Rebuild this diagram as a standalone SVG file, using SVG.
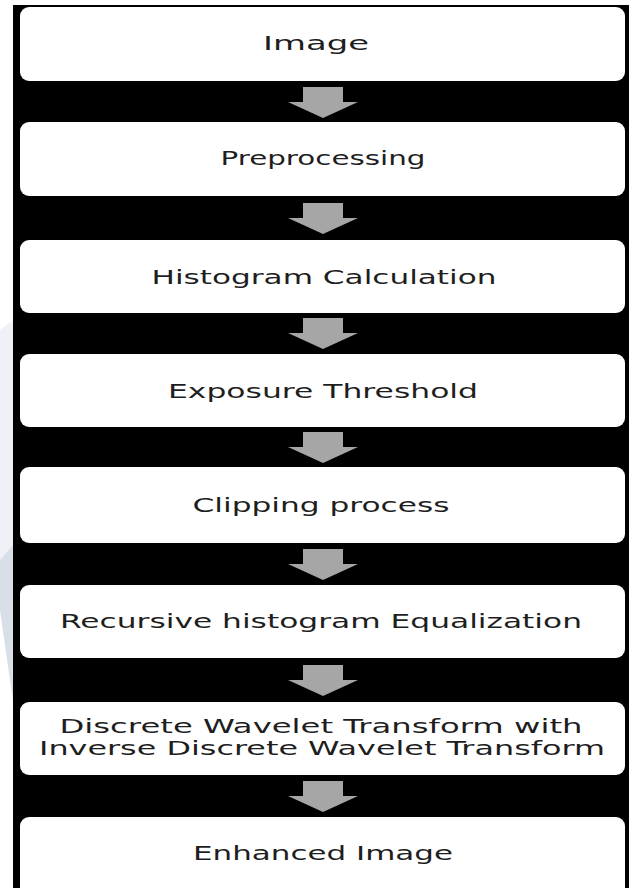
<svg xmlns="http://www.w3.org/2000/svg" width="636" height="888" viewBox="0 0 636 888">
<style>
.box{fill:#ffffff;}
.lbl{font-family:"DejaVu Sans","Liberation Sans",sans-serif;font-size:19px;fill:#1e1e1e;text-anchor:middle;}
.arr{fill:#a6a6a6;}
</style>
<defs>
<path id="arrow" d="M-20,0 H20 V15 H35 L0,31 L-35,15 H-20 Z"/>
</defs>
<rect x="0" y="0" width="636" height="888" fill="#ffffff"/>
<polygon points="0,330 13,320 13,700 0,610" fill="#eef1f5"/>
<polygon points="0,560 13,545 13,700 0,610" fill="#d9dfe7"/>
<rect x="13" y="5" width="616" height="883" fill="#000000"/>
<g id="connectors">
<use href="#arrow" class="arr" x="323" y="87"/>
<use href="#arrow" class="arr" x="323" y="203"/>
<use href="#arrow" class="arr" x="323" y="318"/>
<use href="#arrow" class="arr" x="323" y="432"/>
<use href="#arrow" class="arr" x="323" y="549"/>
<use href="#arrow" class="arr" x="323" y="665"/>
<use href="#arrow" class="arr" x="323" y="781"/>
</g>
<g id="n1"><rect class="box" x="20" y="7" width="605" height="74" rx="9"/><text class="lbl" x="316" y="50" textLength="106" lengthAdjust="spacingAndGlyphs">Image</text></g>
<g id="n2"><rect class="box" x="20" y="122" width="605" height="74" rx="9"/><text class="lbl" x="323" y="165" textLength="205" lengthAdjust="spacingAndGlyphs">Preprocessing</text></g>
<g id="n3"><rect class="box" x="20" y="240" width="605" height="73" rx="9"/><text class="lbl" x="324" y="284" textLength="345" lengthAdjust="spacingAndGlyphs">Histogram Calculation</text></g>
<g id="n4"><rect class="box" x="20" y="354" width="605" height="73" rx="9"/><text class="lbl" x="323" y="398" textLength="310" lengthAdjust="spacingAndGlyphs">Exposure Threshold</text></g>
<g id="n5"><rect class="box" x="20" y="467" width="605" height="76" rx="9"/><text class="lbl" x="321" y="512" textLength="257" lengthAdjust="spacingAndGlyphs">Clipping process</text></g>
<g id="n6"><rect class="box" x="20" y="585" width="605" height="73" rx="9"/><text class="lbl" x="321" y="628" textLength="522" lengthAdjust="spacingAndGlyphs">Recursive histogram Equalization</text></g>
<g id="n7"><rect class="box" x="20" y="702" width="605" height="73" rx="9"/><text class="lbl" x="321" y="733" textLength="523" lengthAdjust="spacingAndGlyphs">Discrete Wavelet Transform with</text><text class="lbl" x="322" y="755" textLength="566" lengthAdjust="spacingAndGlyphs">Inverse Discrete Wavelet Transform</text></g>
<g id="n8"><rect class="box" x="20" y="817" width="605" height="80" rx="9"/><text class="lbl" x="323" y="860" textLength="260" lengthAdjust="spacingAndGlyphs">Enhanced Image</text></g>
</svg>
